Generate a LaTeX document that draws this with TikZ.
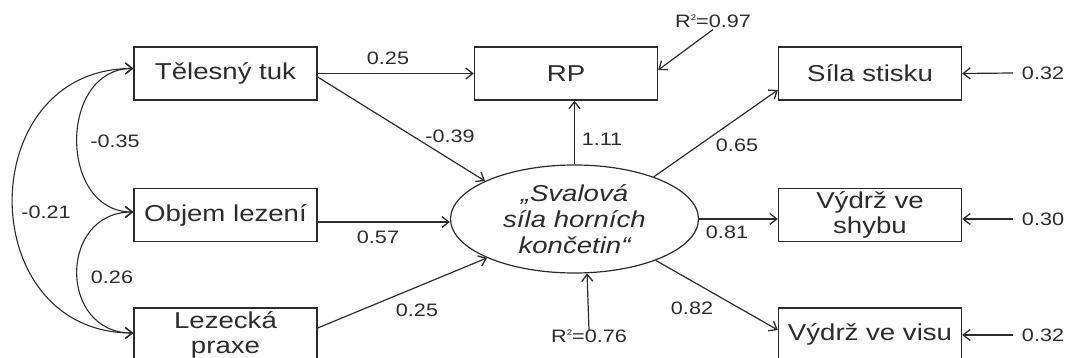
\documentclass[tikz,border=0pt]{standalone}
\usepackage{fontspec}
\setmainfont{Liberation Sans}[FakeStretch=1.2]
\usetikzlibrary{arrows.meta,shapes.geometric}
\definecolor{ink}{HTML}{2B2B2B}
\tikzset{
  box/.style={draw=ink, line width=1.4pt, minimum width=183pt, minimum height=53pt,
    inner sep=0pt, align=center, text=ink, font=\fontsize{23}{25}\selectfont},
  lat/.style={ellipse, draw=ink, line width=1.2pt, minimum width=248pt, minimum height=108pt,
    inner sep=0pt, align=center, text=ink, font=\fontsize{23}{26}\selectfont\itshape},
  lbl/.style={inner sep=1pt, text=ink, font=\fontsize{18}{20}\selectfont},
  arr/.style={draw=ink, line width=1.2pt, -{Straight Barb[length=7pt,width=11pt,line width=1.3pt]}},
  cov/.style={draw=ink, line width=1.1pt, {Straight Barb[length=7pt,width=11pt,line width=1.3pt]}-{Straight Barb[length=7pt,width=11pt,line width=1.3pt]}}
}
\newcommand{\rsq}{R{\fontsize{8}{8}\selectfont\raisebox{7pt}{2}}=}
\begin{document}
\begin{tikzpicture}[x=1pt,y=-1pt]
\useasboundingbox (0,0) rectangle (1071,358);
% observed variables
\node[box] (tuk) at (225.5,73.5) {Tělesný tuk};
\node[box] (objem) at (225.5,215) {Objem lezení};
\node[box] (praxe) at (225.5,334.5) {Lezecká\\praxe};
\node[box] (rp) at (566,73.5) {RP};
\node[box] (sila) at (870,73.5) {Síla stisku};
\node[box] (shybu) at (870,215) {Výdrž ve\\shybu};
\node[box] (visu) at (870,334.5) {Výdrž ve visu};
% latent
\node[lat] (E) at (574.5,219) {„Svalová\\síla horních\\končetin“};
% structural paths
\draw[arr] (tuk.east) -- (rp.west);
\node[lbl] (l1) at (388,58) {0.25};
\draw[arr] ([yshift=-3.5pt]tuk.east) -- (E.157);
\node[lbl] (l2) at (450,136) {-0.39};
\coordinate (o1) at ([yshift=-7pt]objem.east);
\draw[arr] (o1) -- (o1 -| E.west);
\node[lbl] (l3) at (378,237) {0.57};
\draw[arr] ([yshift=6.5pt]praxe.east) -- (E.204);
\node[lbl] (l4) at (417,310) {0.25};
\draw[arr] (E.north) -- (E.north |- rp.south);
\node[lbl] (l5) at (602,139) {1.11};
\draw[arr] (E.28) -- ([yshift=-16.5pt]sila.west);
\node[lbl] (l6) at (737,145) {0.65};
\draw[arr] (E.east) -- (E.east -| shybu.west);
\node[lbl] (l7) at (727,232) {0.81};
\draw[arr] (E.333) -- ([yshift=4.5pt]visu.west);
\node[lbl] (l8) at (692,308) {0.82};
% residuals
\node[lbl] (r97) at (713,21) {\rsq0.97};
\draw[arr] ([yshift=-1pt]r97.south) -- ([yshift=3.5pt]rp.east);
\node[lbl] (r76) at (589,336) {\rsq0.76};
\draw[arr] ([yshift=-2pt]r76.north) -- (E.283);
\node[lbl] (e1) at (1043,73) {0.32};
\draw[arr] ([xshift=-8pt]e1.west) -- (sila.east);
\node[lbl] (e2) at (1043,219) {0.30};
\draw[arr] ([xshift=-8pt]e2.west) -- (e2.west -| shybu.east);
\node[lbl] (e3) at (1043,335) {0.32};
\draw[arr] ([xshift=-8pt]e3.west) -- (e3.west -| visu.east);
% covariances
\draw[cov] ([yshift=5pt]tuk.west) .. controls +(-75,0) and +(-75,0) .. ([yshift=3pt]objem.west);
\node[lbl] (c1) at (115,141) {-0.35};
\draw[cov] ([yshift=3pt]objem.west) .. controls +(-75,0) and +(-75,0) .. ([yshift=1.5pt]praxe.west);
\node[lbl] (c2) at (112,277) {0.26};
\draw[cov] ([yshift=5pt]tuk.west) .. controls +(-161,0) and +(-161,0) .. ([yshift=1.5pt]praxe.west);
\node[lbl] (c3) at (46,212) {-0.21};
\end{tikzpicture}
\end{document}
